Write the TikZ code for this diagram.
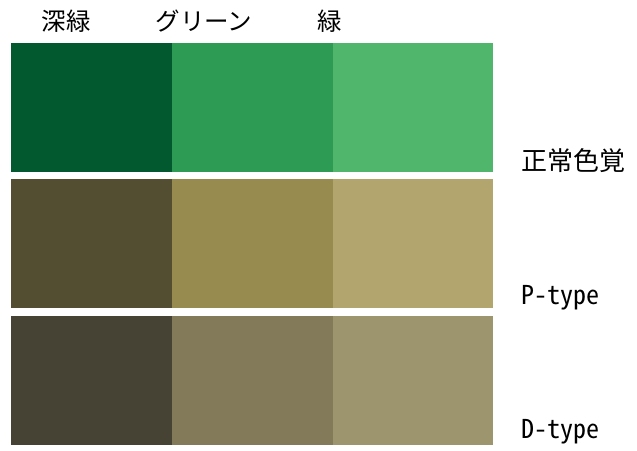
\documentclass[tikz,border=0pt]{standalone}
\usepackage{fontspec}
\setmainfont{Noto Sans CJK JP}
\newfontfamily\halfw[RawFeature=+hwid]{Noto Sans CJK JP}
\definecolor{cA1}{HTML}{02592F}
\definecolor{cA2}{HTML}{2E9B55}
\definecolor{cA3}{HTML}{4FB66C}
\definecolor{cB1}{HTML}{534D32}
\definecolor{cB2}{HTML}{988B50}
\definecolor{cB3}{HTML}{B2A66E}
\definecolor{cC1}{HTML}{474334}
\definecolor{cC2}{HTML}{827A58}
\definecolor{cC3}{HTML}{9D956E}
\begin{document}
\begin{tikzpicture}[x=1pt,y=-1pt,
  swatch/.style={draw=none, inner sep=0pt, minimum width=160.67pt, minimum height=129pt, anchor=north west},
  hdr/.style={font=\fontsize{24.5}{24.5}\selectfont, inner sep=0pt},
  side/.style={font=\fontsize{26}{26}\selectfont, inner sep=0pt}]
\useasboundingbox (0,0) rectangle (637,450);
% row 1
\node[swatch, fill=cA1] (a1) at (11,43) {};
\node[swatch, fill=cA2] (a2) at (171.67,43) {};
\node[swatch, fill=cA3] (a3) at (332.33,43) {};
% row 2
\node[swatch, fill=cB1] (b1) at (11,179) {};
\node[swatch, fill=cB2] (b2) at (171.67,179) {};
\node[swatch, fill=cB3] (b3) at (332.33,179) {};
% row 3
\node[swatch, fill=cC1] (c1) at (11,316) {};
\node[swatch, fill=cC2] (c2) at (171.67,316) {};
\node[swatch, fill=cC3] (c3) at (332.33,316) {};
% headers
\node[hdr] (h1) at (66,21) {深緑};
\node[hdr] (h2) at (204,21) {グリーン};
\node[hdr] (h3) at (330,21) {緑};
% side labels
\node[side, anchor=west] (s1) at (521,161) {正常色覚};
\node[side, anchor=base west] (s2) at (521,304) {\halfw P-type};
\node[side, anchor=base west] (s3) at (521,438) {\halfw D-type};
\end{tikzpicture}
\end{document}
